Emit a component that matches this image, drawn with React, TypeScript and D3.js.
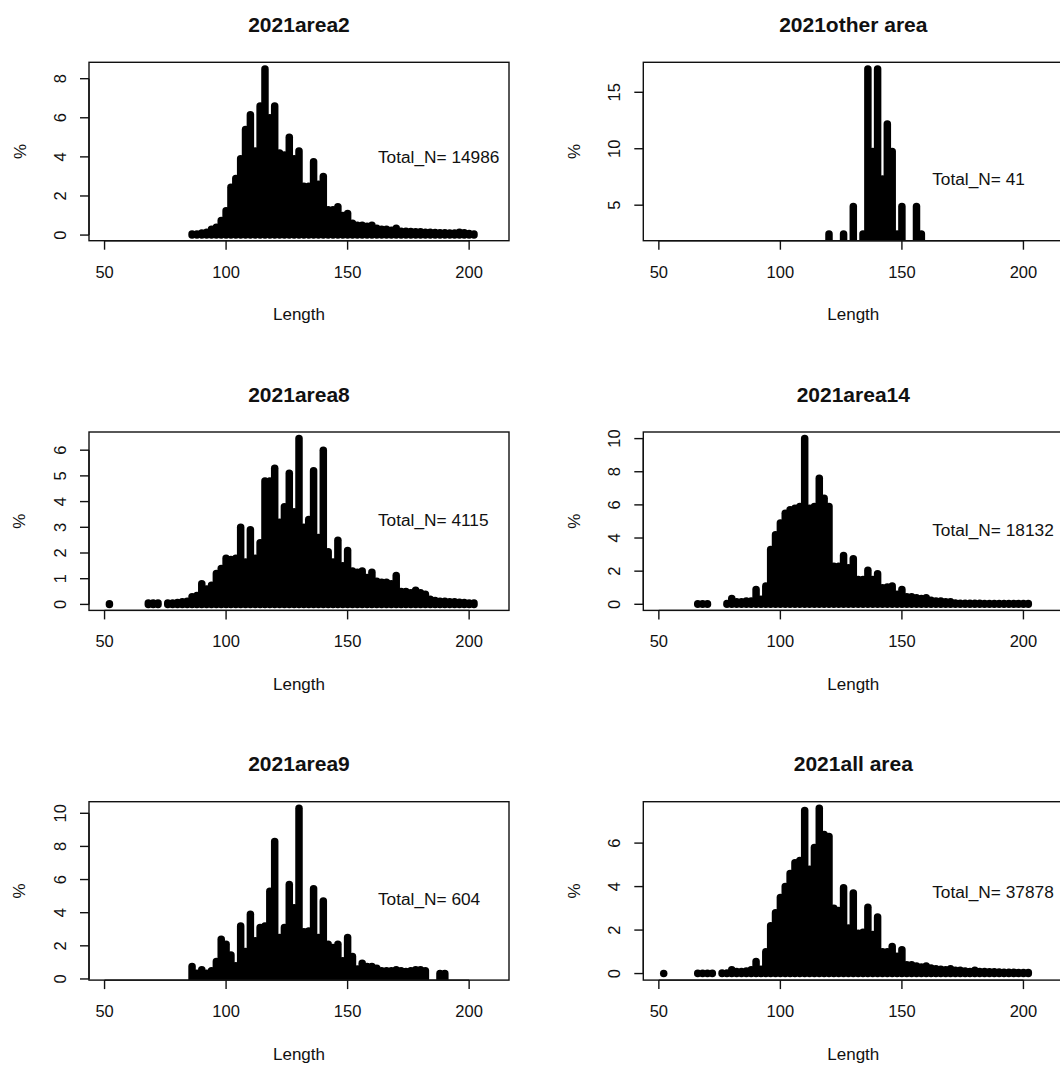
import React from 'react';
import * as d3 from 'd3';

// length (cm, 2 cm bins) -> percent of fish
const area2: [number, number][] = [
  [86, 0.05], [88, 0.05], [90, 0.1], [92, 0.15], [94, 0.3], [96, 0.4], [98, 0.75], [100, 1.25],
  [102, 2.45], [104, 2.9], [106, 3.9], [108, 5.4], [110, 6.15], [112, 4.3], [114, 6.6], [116, 8.5],
  [118, 6.0], [120, 6.6], [122, 4.2], [124, 4.1], [126, 5.0], [128, 3.9], [130, 4.3], [132, 2.5],
  [134, 2.5], [136, 3.75], [138, 2.6], [140, 3.0], [142, 1.3], [144, 1.3], [146, 1.45], [148, 1.0],
  [150, 1.1], [152, 0.6], [154, 0.5], [156, 0.5], [158, 0.45], [160, 0.5], [162, 0.35], [164, 0.3],
  [166, 0.3], [168, 0.25], [170, 0.35], [172, 0.2], [174, 0.2], [176, 0.18], [178, 0.17], [180, 0.17],
  [182, 0.15], [184, 0.15], [186, 0.13], [188, 0.12], [190, 0.12], [192, 0.1], [194, 0.1], [196, 0.15],
  [198, 0.12], [200, 0.08], [202, 0.05],
];

const otherArea: [number, number][] = [
  [120, 2.44], [126, 2.44], [130, 4.88], [134, 2.44], [136, 17.07], [138, 9.76], [140, 17.07],
  [142, 7.32], [144, 12.2], [146, 9.76], [148, 2.44], [150, 4.88], [156, 4.88], [158, 2.44],
];

const area8: [number, number][] = [
  [52, 0.024], [68, 0.05], [70, 0.05], [72, 0.05], [76, 0.05], [78, 0.05], [80, 0.07], [82, 0.1],
  [84, 0.12], [86, 0.3], [88, 0.35], [90, 0.8], [92, 0.6], [94, 0.75], [96, 1.2], [98, 1.4],
  [100, 1.8], [102, 1.75], [104, 1.8], [106, 3.0], [108, 1.65], [110, 2.9], [112, 1.8], [114, 2.4],
  [116, 4.8], [118, 4.8], [120, 5.3], [122, 3.2], [124, 3.8], [126, 5.1], [128, 3.6], [130, 6.45],
  [132, 3.0], [134, 3.3], [136, 5.2], [138, 2.6], [140, 6.0], [142, 2.05], [144, 1.65], [146, 2.5],
  [148, 1.5], [150, 2.1], [152, 1.3], [154, 1.25], [156, 1.3], [158, 1.05], [160, 1.25], [162, 0.9],
  [164, 0.86], [166, 0.86], [168, 0.8], [170, 1.12], [172, 0.5], [174, 0.5], [176, 0.45], [178, 0.55],
  [180, 0.45], [182, 0.4], [184, 0.2], [186, 0.15], [188, 0.12], [190, 0.12], [192, 0.1], [194, 0.1],
  [196, 0.08], [198, 0.07], [200, 0.05], [202, 0.05],
];

const area14: [number, number][] = [
  [66, 0.03], [68, 0.03], [70, 0.03], [78, 0.05], [80, 0.35], [82, 0.15], [84, 0.15], [86, 0.2],
  [88, 0.2], [90, 0.9], [92, 0.3], [94, 1.1], [96, 3.3], [98, 4.2], [100, 4.9], [102, 5.5],
  [104, 5.7], [106, 5.8], [108, 5.9], [110, 10.0], [112, 5.8], [114, 5.9], [116, 7.6], [118, 6.4],
  [120, 5.9], [122, 2.3], [124, 2.3], [126, 2.95], [128, 2.2], [130, 2.75], [132, 1.5], [134, 1.5],
  [136, 2.05], [138, 1.5], [140, 1.85], [142, 1.0], [144, 1.05], [146, 1.1], [148, 0.6], [150, 0.9],
  [152, 0.45], [154, 0.45], [156, 0.4], [158, 0.35], [160, 0.4], [162, 0.25], [164, 0.2], [166, 0.2],
  [168, 0.15], [170, 0.15], [172, 0.08], [174, 0.07], [176, 0.07], [178, 0.06], [180, 0.06], [182, 0.06],
  [184, 0.05], [186, 0.05], [188, 0.05], [190, 0.05], [192, 0.05], [194, 0.05], [196, 0.05], [198, 0.05],
  [200, 0.05], [202, 0.05],
];

const area9: [number, number][] = [
  [86, 0.75], [88, 0.35], [90, 0.55], [92, 0.35], [94, 0.5], [96, 1.05], [98, 2.4], [100, 2.1],
  [102, 1.45], [104, 0.8], [106, 3.2], [108, 1.65], [110, 3.9], [112, 2.3], [114, 3.1], [116, 3.2],
  [118, 5.3], [120, 8.3], [122, 2.5], [124, 3.1], [126, 5.7], [128, 4.3], [130, 10.3], [132, 2.85],
  [134, 2.9], [136, 5.45], [138, 2.5], [140, 4.7], [142, 2.1], [144, 1.9], [146, 2.1], [148, 1.1],
  [150, 2.5], [152, 1.35], [154, 0.6], [156, 0.95], [158, 0.75], [160, 0.75], [162, 0.65], [164, 0.5],
  [166, 0.5], [168, 0.5], [170, 0.55], [172, 0.5], [174, 0.45], [176, 0.5], [178, 0.55], [180, 0.55],
  [182, 0.5], [188, 0.33], [190, 0.33],
];

const allArea: [number, number][] = [
  [52, 0.003], [66, 0.01], [68, 0.01], [70, 0.01], [72, 0.01], [76, 0.02], [78, 0.03], [80, 0.17],
  [82, 0.1], [84, 0.1], [86, 0.12], [88, 0.17], [90, 0.56], [92, 0.2], [94, 1.0], [96, 2.2],
  [98, 2.8], [100, 3.5], [102, 4.0], [104, 4.6], [106, 5.1], [108, 5.2], [110, 7.5], [112, 4.8],
  [114, 5.8], [116, 7.6], [118, 6.4], [120, 6.3], [122, 3.0], [124, 2.9], [126, 3.95], [128, 2.1],
  [130, 3.7], [132, 1.85], [134, 1.9], [136, 3.05], [138, 1.8], [140, 2.6], [142, 1.0], [144, 1.0],
  [146, 1.25], [148, 0.8], [150, 1.1], [152, 0.4], [154, 0.4], [156, 0.35], [158, 0.3], [160, 0.35],
  [162, 0.25], [164, 0.22], [166, 0.2], [168, 0.18], [170, 0.22], [172, 0.15], [174, 0.15], [176, 0.12],
  [178, 0.1], [180, 0.15], [182, 0.1], [184, 0.1], [186, 0.08], [188, 0.08], [190, 0.07], [192, 0.06],
  [194, 0.06], [196, 0.06], [198, 0.05], [200, 0.05], [202, 0.05],
];

const titles = ['2021area2', '2021other area', '2021area8', '2021area14', '2021area9', '2021all area'];
const totals = [14986, 41, 4115, 18132, 604, 37878];
const series = [area2, otherArea, area8, area14, area9, allArea];
// y (percent) where the Total_N note sits in each panel
const noteY = [4.0, 7.3, 3.3, 4.5, 4.8, 3.75];
const xTicks = [50, 100, 150, 200];
const xLim = [50, 210];

const W = 1060, H = 1066;
const CELL_W = 554.3, CELL_H = 369.7;
const BOX_L = 89, BOX_T = 62.3, BOX_W = 420, BOX_H = 178.4;
const FONT = "'Liberation Sans', Arial, Helvetica, sans-serif";
const INK = '#111';

// tick positions the way R's pretty() picks them (n = 5, h = 1.5)
function prettyTicks(lo: number, hi: number, n = 5): number[] {
  const cell = (hi - lo) / n;
  const U = Math.pow(10, Math.floor(Math.log10(cell)));
  const h = 1.5, h5 = 0.5 + 1.5 * h;
  let unit = U;
  if (2 * U - cell < h * (cell - unit)) {
    unit = 2 * U;
    if (5 * U - cell < h5 * (cell - unit)) {
      unit = 5 * U;
      if (10 * U - cell < h * (cell - unit)) unit = 10 * U;
    }
  }
  const out: number[] = [];
  for (let t = Math.ceil(lo / unit) * unit; t <= hi + 1e-9; t += unit) out.push(+t.toFixed(6));
  return out;
}

function Panel({ idx }: { idx: number }) {
  const data = series[idx];
  const col = idx % 2, row = Math.floor(idx / 2);
  const left = BOX_L + col * CELL_W;
  const top = BOX_T + row * CELL_H;
  const bottom = top + BOX_H;

  const xr = xLim[1] - xLim[0];
  const x = d3.scaleLinear()
    .domain([xLim[0] - 0.04 * xr, xLim[1] + 0.04 * xr])
    .range([left, left + BOX_W]);

  const [ymin, ymax] = d3.extent(data, d => d[1]) as [number, number];
  const yr = ymax - ymin;
  const y = d3.scaleLinear()
    .domain([ymin - 0.04 * yr, ymax + 0.04 * yr])
    .range([bottom, top]);
  const [d0, d1] = y.domain();
  const yTicks = prettyTicks(d0, d1);

  const clipId = `clip${idx}`;
  const tick = 9;

  return (
    <g>
      <defs>
        <clipPath id={clipId}>
          <rect x={left} y={top} width={BOX_W} height={BOX_H} />
        </clipPath>
      </defs>

      <text x={left + BOX_W / 2} y={top - 38} textAnchor="middle" dominantBaseline="central"
        fontFamily={FONT} fontWeight="bold" fontSize={21} fill={INK}>{titles[idx]}</text>

      <g clipPath={`url(#${clipId})`}>
        {data.map(([len, pct]) => (
          <line key={len} x1={x(len)} x2={x(len)} y1={y(0)} y2={y(pct)}
            stroke="#000" strokeWidth={7.5} strokeLinecap="round" />
        ))}
      </g>

      <rect x={left} y={top} width={BOX_W} height={BOX_H} fill="none" stroke={INK} strokeWidth={1.4} />

      {/* x axis */}
      <line x1={x(xTicks[0])} x2={x(xTicks[xTicks.length - 1])} y1={bottom} y2={bottom} stroke={INK} strokeWidth={1.4} />
      {xTicks.map(t => (
        <g key={t}>
          <line x1={x(t)} x2={x(t)} y1={bottom} y2={bottom + tick} stroke={INK} strokeWidth={1.4} />
          <text x={x(t)} y={bottom + 31} textAnchor="middle" dominantBaseline="central"
            fontFamily={FONT} fontSize={16.5} fill={INK}>{t}</text>
        </g>
      ))}
      <text x={left + BOX_W / 2} y={bottom + 74} textAnchor="middle" dominantBaseline="central"
        fontFamily={FONT} fontSize={17} fill={INK}>Length</text>

      {/* y axis */}
      <line x1={left} x2={left} y1={y(yTicks[0])} y2={y(yTicks[yTicks.length - 1])} stroke={INK} strokeWidth={1.4} />
      {yTicks.map(t => (
        <g key={t}>
          <line x1={left - tick} x2={left} y1={y(t)} y2={y(t)} stroke={INK} strokeWidth={1.4} />
          <text x={left - 29} y={y(t)} textAnchor="middle" dominantBaseline="central"
            transform={`rotate(-90, ${left - 29}, ${y(t)})`}
            fontFamily={FONT} fontSize={16.5} fill={INK}>{t}</text>
        </g>
      ))}
      <text x={left - 69} y={top + BOX_H / 2} textAnchor="middle" dominantBaseline="central"
        transform={`rotate(-90, ${left - 69}, ${top + BOX_H / 2})`}
        fontFamily={FONT} fontSize={17} fill={INK}>%</text>

      <text x={x(160) + 6} y={y(noteY[idx])} textAnchor="start" dominantBaseline="central"
        fontFamily={FONT} fontSize={17.3} fill={INK}>{`Total_N= ${totals[idx]}`}</text>
    </g>
  );
}

export default function App() {
  return (
    <svg width={W} height={H} viewBox={`0 0 ${W} ${H}`}
      style={{ position: 'absolute', left: 0, top: 0, background: '#fff' }}>
      <rect width={W} height={H} fill="#fff" />
      {titles.map((_, i) => <Panel key={i} idx={i} />)}
    </svg>
  );
}
